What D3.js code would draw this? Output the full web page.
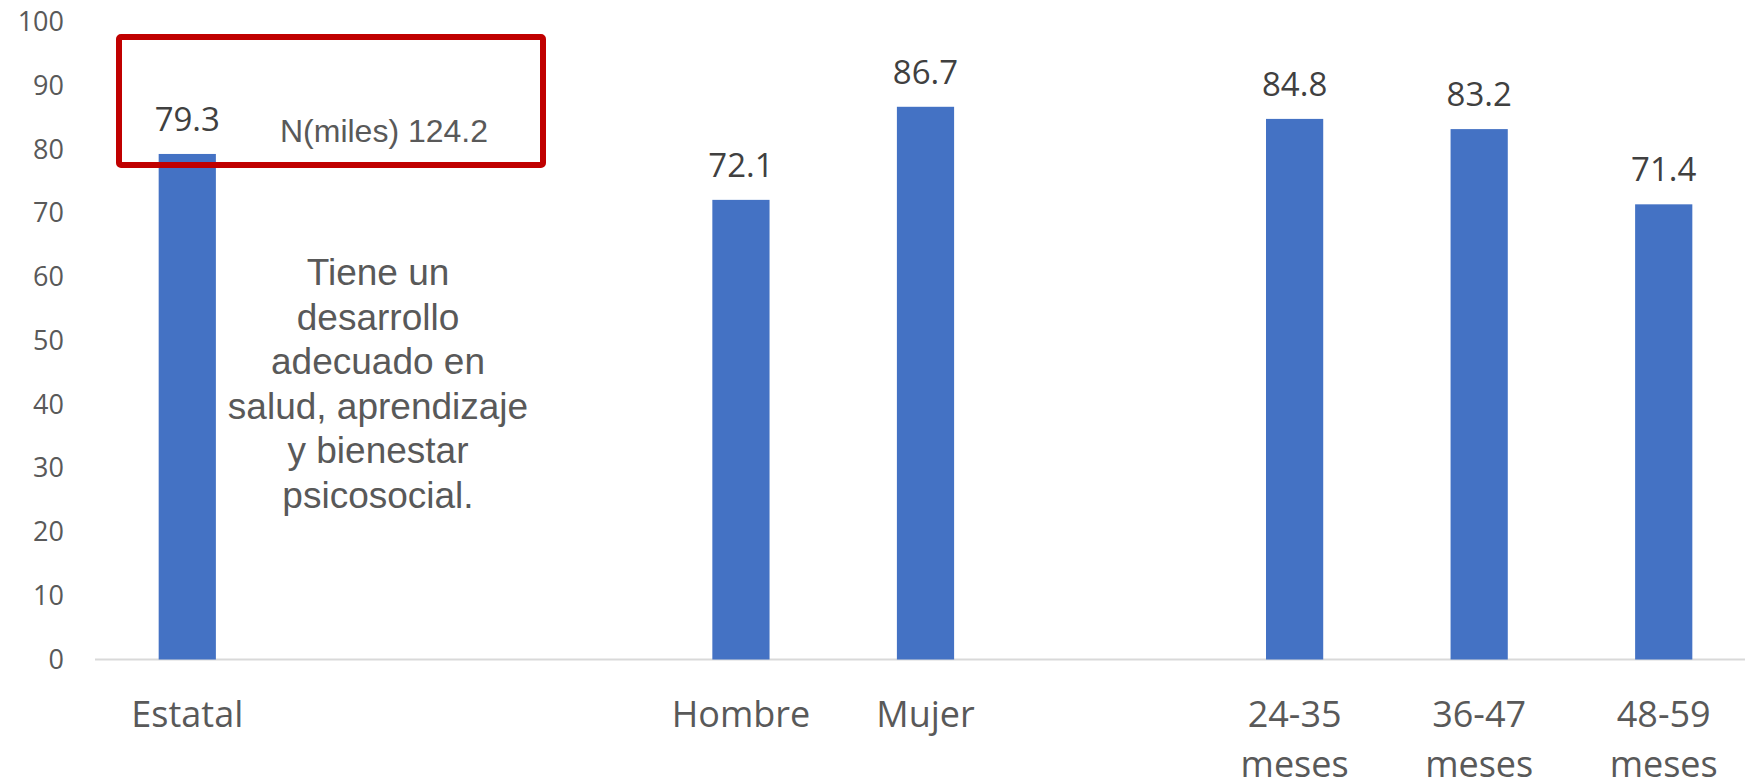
<!DOCTYPE html>
<html>
<head>
<meta charset="utf-8">
<script src="https://cdn.jsdelivr.net/npm/d3@7"></script>
<style>
  html, body { margin: 0; padding: 0; background: #fff; }
  svg { display: block; }
</style>
</head>
<body>
<svg id="chart" width="1745" height="784"></svg>
<script>
// ---- data ----
const slots = ["Estatal", "gap1", "gap2", "Hombre", "Mujer", "gap3", "24-35 meses", "36-47 meses", "48-59 meses"];
const categories = ["Estatal", "Hombre", "Mujer", "24-35 meses", "36-47 meses", "48-59 meses"];
const values = [79.3, 72.1, 86.7, 84.8, 83.2, 71.4];
const yTicks = [0, 10, 20, 30, 40, 50, 60, 70, 80, 90, 100];
const annotationLines = ["Tiene un", "desarrollo", "adecuado en", "salud, aprendizaje", "y bienestar", "psicosocial."];
const nLabel = "N(miles) 124.2";

// ---- drawing ----
const W = 1745, H = 784;
const svg = d3.select("#chart");
const x = d3.scalePoint().domain(slots).range([95, 1756]).padding(0.5);
const y = d3.scaleLinear().domain([0, 100]).range([659.5, 22]);
const bw = x.step() * 0.31;
const data = categories.map((c, i) => ({ c, v: values[i] }));

// baseline axis line
svg.append("line")
  .attr("x1", 95).attr("x2", W)
  .attr("y1", y(0)).attr("y2", y(0))
  .attr("stroke", "#d9d9d9").attr("stroke-width", 2);

// y axis labels
const yAxis = d3.axisLeft(y).tickValues(yTicks).tickSize(0).tickPadding(31).tickFormat(d3.format("d"));
const gy = svg.append("g").attr("transform", "translate(95,0)").call(yAxis);
gy.select(".domain").remove();
gy.selectAll("text")
  .attr("font-family", "'Open Sans', sans-serif")
  .attr("font-size", 27)
  .attr("fill", "#595959");

// bars
svg.append("g").selectAll("rect").data(data).join("rect")
  .attr("x", d => x(d.c) - bw / 2)
  .attr("width", bw)
  .attr("y", d => y(d.v))
  .attr("height", d => y(0) - y(d.v))
  .attr("fill", "#4472C4");

// value labels
svg.append("g").selectAll("text").data(data).join("text")
  .attr("x", d => x(d.c))
  .attr("y", d => y(d.v) - 23)
  .attr("text-anchor", "middle")
  .attr("font-family", "'Open Sans', sans-serif")
  .attr("font-size", 33)
  .attr("fill", "#404040")
  .text(d => d.v.toFixed(1));

// category labels
const cl = svg.append("g").selectAll("text").data(data).join("text")
  .attr("x", d => x(d.c))
  .attr("y", 727)
  .attr("text-anchor", "middle")
  .attr("font-family", "'Open Sans', sans-serif")
  .attr("font-size", 36)
  .attr("fill", "#595959");
cl.each(function(d) {
  const parts = d.c.split(" ");
  const t = d3.select(this);
  parts.forEach((p, i) => {
    t.append("tspan").attr("x", x(d.c)).attr("dy", i === 0 ? 0 : 50).text(p);
  });
});

// red highlight box
svg.append("rect")
  .attr("x", 119).attr("y", 37)
  .attr("width", 424).attr("height", 128)
  .attr("rx", 2)
  .attr("fill", "none")
  .attr("stroke", "#C00000")
  .attr("stroke-width", 6);

svg.append("text")
  .attr("x", 384).attr("y", 142)
  .attr("text-anchor", "middle")
  .attr("font-family", "'Liberation Sans', Arial, sans-serif")
  .attr("font-size", 32)
  .attr("fill", "#595959")
  .text(nLabel);

// annotation
const ann = svg.append("text")
  .attr("x", 378).attr("y", 285)
  .attr("text-anchor", "middle")
  .attr("font-family", "'Liberation Sans', Arial, sans-serif")
  .attr("font-size", 37)
  .attr("fill", "#595959");
annotationLines.forEach((l, i) => {
  ann.append("tspan").attr("x", 378).attr("dy", i === 0 ? 0 : 44.6).text(l);
});
</script>
</body>
</html>
